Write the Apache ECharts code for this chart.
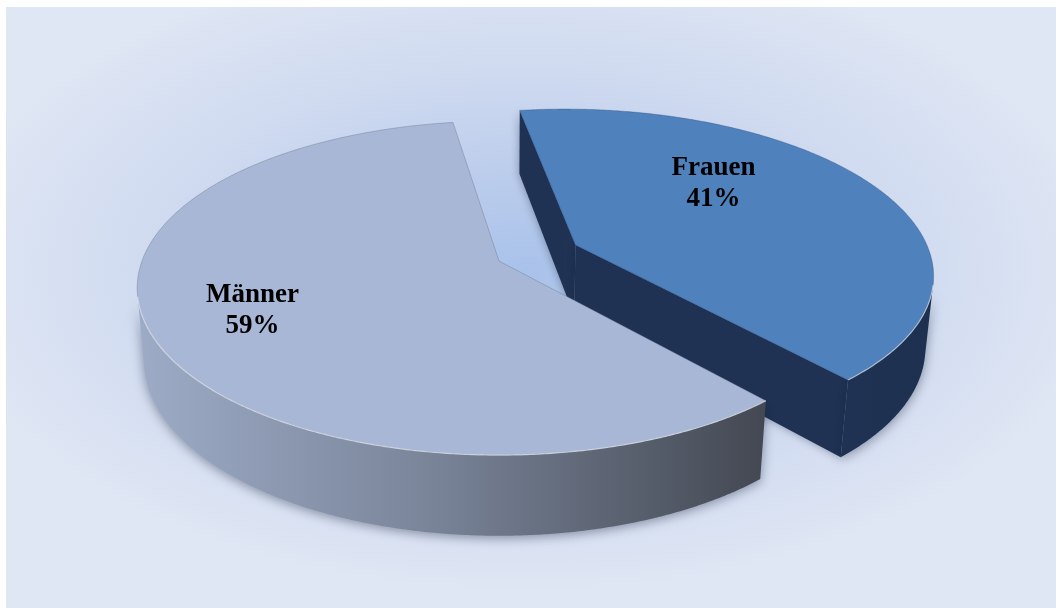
<!DOCTYPE html>
<html>
<head>
<meta charset="utf-8">
<script src="https://cdn.jsdelivr.net/npm/echarts@6/dist/echarts.min.js"></script>
<style>
  html, body { margin: 0; padding: 0; background: #ffffff; }
  #chart { width: 1056px; height: 608px; }
</style>
</head>
<body>
<div id="chart"></div>
<script>
// Geschlechterverteilung
const categories = ['Männer', 'Frauen'];
const shares = [59, 41];

// Perspective camera for the tilted 3D disk (world units = pie radius)
const VIEW = {
  cx: 499, cy: 261,          // screen position of the pie centre
  focal: 1960,
  dist: 5.49,
  tilt: 27.1 * Math.PI / 180,
  depth: 0.229               // disk thickness
};
const START_ANGLE = 311;      // degrees, counter-clockwise from 3 o'clock; slices run clockwise
const EXPLODE = [0, 0.24];    // radial pull-out per slice
const LABEL_PLACE = [{ r: 0.72, turn: -0.8 }, { r: 0.6, turn: 19 }];

const SLICE_STYLE = [
  {
    top: '#A9B7D6',
    topStroke: 'rgba(110,122,146,0.55)',
    side: { stops: [[0, '#9DABC6'], [0.45, '#7B869B'], [1, '#434852']] },
    cut: '#5A6070'
  },
  {
    top: '#4F81BD',
    topStroke: 'rgba(40,70,115,0.45)',
    side: { stops: [[0, '#1F3253'], [1, '#1E304F']] },
    cut: '#1F3252'
  }
];

const SIN_T = Math.sin(VIEW.tilt), COS_T = Math.cos(VIEW.tilt);
const CAM = [0, VIEW.dist * SIN_T, -VIEW.dist * COS_T];
const RAD = Math.PI / 180;

function project(X, Y, Z) {
  const zc = VIEW.dist - Y * SIN_T + Z * COS_T;
  const yc = Y * COS_T + Z * SIN_T;
  return [VIEW.cx + VIEW.focal * X / zc, VIEW.cy - VIEW.focal * yc / zc];
}

function facing(p, n) {
  return (CAM[0] - p[0]) * n[0] + (CAM[1] - p[1]) * n[1] + (CAM[2] - p[2]) * n[2] > 0;
}

const total = shares.reduce((s, v) => s + v, 0);

function sliceGeometry(i) {
  let before = 0;
  for (let k = 0; k < i; k++) before += shares[k];
  const a0 = START_ANGLE - before / total * 360;
  const a1 = a0 - shares[i] / total * 360;
  const mid = (a0 + a1) / 2;
  const ox = EXPLODE[i] * Math.cos(mid * RAD);
  const oz = EXPLODE[i] * Math.sin(mid * RAD);
  return { a0, a1, mid, ox, oz };
}

// farther slices are painted first
const depthRank = shares.map((_, i) => {
  const g = sliceGeometry(i);
  return { i, z: g.oz + 0.5 * Math.sin(g.mid * RAD) };
}).sort((p, q) => q.z - p.z).map(o => o.i);

function renderSlice(params, api) {
  const i = params.dataIndex;
  const g = sliceGeometry(i);
  const st = SLICE_STYLE[i];
  const h = VIEW.depth;
  const base = depthRank.indexOf(i) * 10;
  const children = [];

  const rim = (a, Y) => project(g.ox + Math.cos(a * RAD), Y, g.oz + Math.sin(a * RAD));
  const centreTop = project(g.ox, 0, g.oz);
  const centreBot = project(g.ox, -h, g.oz);

  // radial cut faces
  [[g.a0, 90], [g.a1, -90]].forEach(([a, turn]) => {
    const n = [Math.cos((a + turn) * RAD), 0, Math.sin((a + turn) * RAD)];
    const p = [g.ox + 0.5 * Math.cos(a * RAD), -h / 2, g.oz + 0.5 * Math.sin(a * RAD)];
    if (!facing(p, n)) return;
    children.push({
      type: 'polygon',
      z2: base + 1,
      shape: { points: [centreTop, rim(a, 0), rim(a, -h), centreBot] },
      style: {
        fill: st.side.stops[0][1],
        shadowBlur: 10,
        shadowColor: 'rgba(20,30,55,0.4)'
      }
    });
  });

  // outer curved wall, only where it faces the camera
  const steps = Math.ceil(Math.abs(g.a0 - g.a1) / 0.4);
  const runs = [];
  let cur = null;
  for (let s = 0; s <= steps; s++) {
    const a = g.a0 + (g.a1 - g.a0) * s / steps;
    const n = [Math.cos(a * RAD), 0, Math.sin(a * RAD)];
    const p = [g.ox + n[0], 0, g.oz + n[2]];
    if (facing(p, n)) {
      if (!cur) { cur = []; runs.push(cur); }
      cur.push(a);
    } else {
      cur = null;
    }
  }
  runs.forEach(run => {
    const topPts = run.map(a => rim(a, 0));
    const botPts = run.map(a => rim(a, -h)).reverse();
    const pts = topPts.concat(botPts);
    let minX = Infinity, maxX = -Infinity;
    pts.forEach(p => { minX = Math.min(minX, p[0]); maxX = Math.max(maxX, p[0]); });
    children.push({
      type: 'polygon',
      z2: base + 2,
      shape: { points: pts },
      style: {
        fill: new echarts.graphic.LinearGradient(minX, 0, maxX, 0,
          st.side.stops.map(([o, c]) => ({ offset: o, color: c })), true),
        shadowBlur: 12,
        shadowColor: 'rgba(20,30,55,0.45)',
        shadowOffsetY: 2
      }
    });
    children.push({
      type: 'polyline',
      z2: base + 4,
      shape: { points: topPts },
      style: { stroke: 'rgba(255,255,255,0.55)', lineWidth: 1.2, fill: null }
    });
  });

  // top face
  const topSteps = Math.ceil(Math.abs(g.a0 - g.a1) / 0.5);
  const topPts = [centreTop];
  for (let s = 0; s <= topSteps; s++) {
    topPts.push(rim(g.a0 + (g.a1 - g.a0) * s / topSteps, 0));
  }
  children.push({
    type: 'polygon',
    z2: base + 3,
    shape: { points: topPts },
    style: { fill: st.top, stroke: st.topStroke, lineWidth: 0.8 }
  });

  // label on the top face
  const lp = LABEL_PLACE[i];
  const la = (g.mid + lp.turn) * RAD;
  const pos = project(g.ox + lp.r * Math.cos(la), 0, g.oz + lp.r * Math.sin(la));
  const pct = Math.round(api.value(0) / total * 100) + '%';
  children.push({
    type: 'text',
    z2: 100,
    x: pos[0],
    y: pos[1],
    style: {
      text: categories[i] + '\n' + pct,
      fill: '#000000',
      font: 'bold 27px "Liberation Serif", "Times New Roman", serif',
      lineHeight: 31,
      align: 'center',
      verticalAlign: 'middle'
    }
  });

  return { type: 'group', children };
}

const chart = echarts.init(document.getElementById('chart'), null, { renderer: 'canvas' });

// elliptical backdrop glow (rect drawn in stretched coordinates)
const SQUASH = 0.55;
chart.setOption({
  backgroundColor: '#ffffff',
  animation: false,
  graphic: [{
    type: 'rect',
    silent: true,
    z: -10,
    scaleY: SQUASH,
    shape: { x: 6, y: 7 / SQUASH, width: 1050, height: 601 / SQUASH },
    style: {
      fill: new echarts.graphic.RadialGradient(525, 270 / SQUASH, 600, [
        { offset: 0, color: '#A9C2EA' },
        { offset: 0.3, color: '#BCCDEC' },
        { offset: 0.6, color: '#CFDAF0' },
        { offset: 1, color: '#E0E7F4' }
      ], true)
    }
  }],
  series: [{
    type: 'custom',
    coordinateSystem: 'none',
    silent: true,
    data: shares.map((v, i) => ({ name: categories[i], value: [v] })),
    renderItem: renderSlice
  }]
});
</script>
</body>
</html>
